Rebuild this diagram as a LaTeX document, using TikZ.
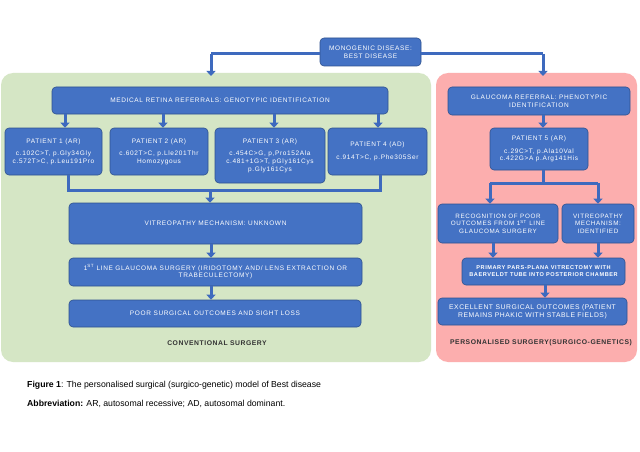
\documentclass[tikz,border=0pt]{standalone}
\usepackage{fontspec}
\setmainfont{Liberation Sans}
\newfontfamily\boxfont[LetterSpace=10]{Liberation Sans}
\newfontfamily\labfont[LetterSpace=8]{Liberation Sans}
\usetikzlibrary{arrows.meta}
\definecolor{bfill}{RGB}{68,114,196}
\definecolor{bline}{RGB}{47,82,143}
\definecolor{barrow}{RGB}{62,106,190}
\definecolor{gpanel}{RGB}{213,230,197}
\definecolor{ppanel}{RGB}{252,174,174}
\definecolor{lbl}{RGB}{51,51,51}
\begin{document}
\begin{tikzpicture}[x=1pt,y=-1pt,
 box/.style={draw=bline, line width=0.6pt, fill=bfill, rounded corners=4pt, text=white,
   font=\boxfont\fontsize{6.5}{7.6}\selectfont, align=center, inner sep=1pt},
 arr/.style={draw=barrow, line width=3pt, -{Triangle[width=9pt,length=5pt]}},
 ln/.style={draw=barrow, line width=3pt, line join=miter},
 lab/.style={text=lbl, font=\labfont\fontsize{6.8}{8}\selectfont\bfseries},
 captxt/.style={anchor=west, font=\fontsize{8.7}{10}\selectfont, inner sep=0pt}]
\useasboundingbox (0,0) rectangle (640,452);
\fill[white] (0,0) rectangle (640,452);
% panels
\fill[gpanel, rounded corners=12pt] (1,73) rectangle (431,362);
\fill[ppanel, rounded corners=12pt] (436,73) rectangle (637,362);
% boxes
\node[box, minimum width=101pt, minimum height=28pt] (top) at (370.5,52) {MONOGENIC DISEASE:\\BEST DISEASE};
\node[box, minimum width=336pt, minimum height=27pt] (med) at (220,100.5) {MEDICAL RETINA REFERRALS: GENOTYPIC IDENTIFICATION};
\node[box, minimum width=97pt, minimum height=47pt] (p1) at (53.5,151.5) {PATIENT 1 (AR)\\[5pt]c.102C>T, p.Gly34Gly\\c.572T>C, p.Leu191Pro};
\node[box, minimum width=98pt, minimum height=47pt] (p2) at (159,151.5) {PATIENT 2 (AR)\\[5pt]c.602T>C, p.Lle201Thr\\Homozygous};
\node[box, minimum width=110pt, minimum height=55pt] (p3) at (270,155.5) {PATIENT 3 (AR)\\[5pt]c.454C>G, p,Pro152Ala\\c.481+1G>T, pGly161Cys\\p.Gly161Cys};
\node[box, minimum width=99pt, minimum height=47pt] (p4) at (377.5,151.5) {PATIENT 4 (AD)\\[5pt]c.914T>C, p.Phe305Ser};
\node[box, minimum width=293pt, minimum height=41pt] (vitu) at (215.5,223.5) {VITREOPATHY MECHANISM: UNKNOWN};
\node[box, minimum width=293pt, minimum height=28pt] (first) at (215.5,272) {1\textsuperscript{ST} LINE GLAUCOMA SURGERY (IRIDOTOMY AND/ LENS EXTRACTION OR\\TRABECULECTOMY)};
\node[box, minimum width=292pt, minimum height=27pt] (poor) at (215,313.5) {POOR SURGICAL OUTCOMES AND SIGHT LOSS};
\node[lab] (conv) at (217,343) {CONVENTIONAL SURGERY};
\node[box, minimum width=182pt, minimum height=28pt] (glauc) at (539,101) {GLAUCOMA REFERRAL: PHENOTYPIC\\IDENTIFICATION};
\node[box, minimum width=98pt, minimum height=42pt] (p5) at (539,149) {PATIENT 5 (AR)\\[5pt]c.29C>T, p.Ala10Val\\c.422G>A p.Arg141His};
\node[box, minimum width=120pt, minimum height=39pt, font=\boxfont\fontsize{6.3}{7.6}\selectfont] (recog) at (498,223.5) {RECOGNITION OF POOR\\OUTCOMES FROM 1\textsuperscript{ST} LINE\\GLAUCOMA SURGERY};
\node[box, minimum width=72pt, minimum height=39pt, font=\boxfont\fontsize{6.3}{7.6}\selectfont] (viti) at (598,223.5) {VITREOPATHY\\MECHANISM:\\IDENTIFIED};
\node[box, minimum width=163pt, minimum height=27pt, font=\boxfont\fontsize{5.6}{7}\selectfont\bfseries] (prim) at (543.5,271.5) {PRIMARY PARS-PLANA VITRECTOMY WITH\\BAERVELDT TUBE INTO POSTERIOR CHAMBER};
\node[box, minimum width=189pt, minimum height=27pt, font=\labfont\fontsize{6.8}{8.4}\selectfont] (exc) at (532.5,311.5) {EXCELLENT SURGICAL OUTCOMES (PATIENT\\REMAINS PHAKIC WITH STABLE FIELDS)};
\node[lab] (pers) at (541,343) {PERSONALISED SURGERY(SURGICO-GENETICS)};
% caption
\node[captxt] (fig) at (27,385) {\textbf{Figure 1}: The personalised surgical (surgico-genetic) model of Best disease};
\node[captxt] (abb) at (27,404) {\textbf{Abbreviation:} AR, autosomal recessive; AD, autosomal dominant.};
% connector coordinates
\coordinate (tl) at (211,54);
\coordinate (tla) at (211,76);
\coordinate (tr) at (543,54);
\coordinate (tra) at (543,76);
\path ([xshift=11.5pt]p1.north) coordinate (a1);
\path ([xshift=4pt]p2.north) coordinate (a2);
\path ([xshift=4pt]p3.north) coordinate (a3);
\path ([xshift=0.5pt]p4.north) coordinate (a4);
\path ([xshift=14.5pt]p1.south) coordinate (b1);
\path ([xshift=2.5pt]p4.south) coordinate (b4);
\coordinate (bl) at (68,190);
\coordinate (br) at (380,190);
\coordinate (bm) at (210,190);
\coordinate (v1) at (211,0);
\path ([xshift=4pt]p5.south) coordinate (p5s);
\coordinate (rj) at (543,183);
\coordinate (rl) at (490,183);
\coordinate (rr) at (598,183);
\coordinate (rx) at (493,0);
\coordinate (px) at (545,0);
% connectors
\draw[ln] (top.west |- tl) -- (tl);
\draw[arr] (tl) -- (tla);
\draw[ln] (top.east |- tr) -- (tr);
\draw[arr] (tr) -- (tra);
\draw[arr] (a1 |- med.south) -- (a1);
\draw[arr] (a2 |- med.south) -- (a2);
\draw[arr] (a3 |- med.south) -- (a3);
\draw[arr] (a4 |- med.south) -- (a4);
\draw[ln] (b1) -- (bl) -- (br) -- (b4);
\draw[arr] (bm) -- (bm |- vitu.north);
\draw[arr] (v1 |- vitu.south) -- (v1 |- first.north);
\draw[arr] (v1 |- first.south) -- (v1 |- poor.north);
\draw[arr] (glauc.south -| p5s) -- (p5.north -| p5s);
\draw[ln] (p5s) -- (p5s |- rj);
\draw[ln] (rl) -- (rr);
\draw[arr] (rl) -- (rl |- recog.north);
\draw[arr] (rr) -- (viti.north);
\draw[arr] (rx |- recog.south) -- (rx |- prim.north);
\draw[arr] (viti.south) -- (viti.south |- prim.north);
\draw[arr] (px |- prim.south) -- (px |- exc.north);
\end{tikzpicture}
\end{document}
